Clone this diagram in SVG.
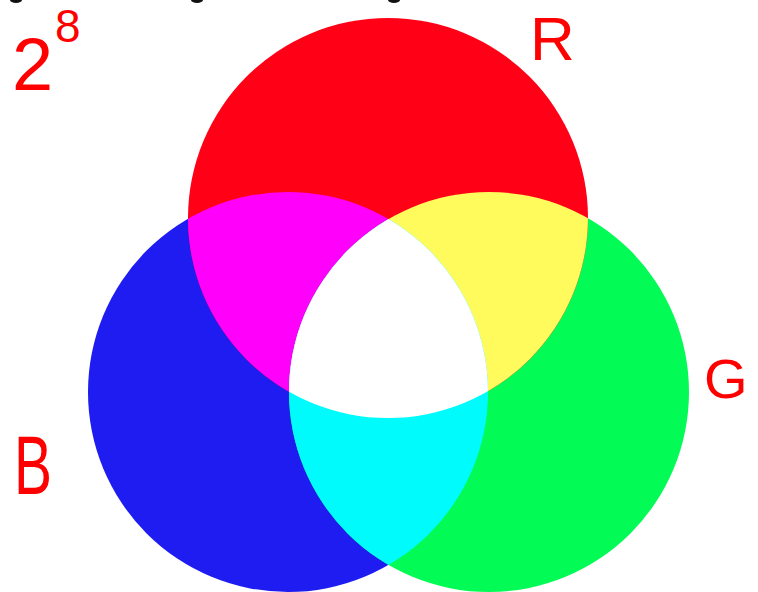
<svg xmlns="http://www.w3.org/2000/svg" width="758" height="592" viewBox="0 0 758 592">
<style>
.lbl{font-family:"Liberation Sans","DejaVu Sans",sans-serif;fill:#ff0000;font-weight:normal}
</style>
<defs>
<circle id="cR" cx="388" cy="218" r="200"/>
<circle id="cB" cx="288" cy="392" r="200"/>
<circle id="cG" cx="489" cy="392" r="200"/>
<clipPath id="clipB"><use href="#cB"/></clipPath>
<clipPath id="clipG"><use href="#cG"/></clipPath>
<clipPath id="clipBG"><circle cx="489" cy="392" r="200" clip-path="url(#clipB)"/></clipPath>
</defs>
<rect width="758" height="592" fill="#ffffff"/>
<g id="topmarks" fill="#111">
<ellipse cx="16" cy="0" rx="6" ry="3"/>
<ellipse cx="197" cy="0" rx="6" ry="3"/>
<ellipse cx="394" cy="0" rx="6" ry="3"/>
</g>
<g id="blue"><use href="#cB" fill="#1e1cf0"/></g>
<g id="green"><use href="#cG" fill="#03fb55"/></g>
<g id="red"><use href="#cR" fill="#ff0016"/></g>
<g id="magenta"><use href="#cR" fill="#ff00fb" clip-path="url(#clipB)"/></g>
<g id="yellow"><use href="#cR" fill="#fffb5c" clip-path="url(#clipG)"/></g>
<g id="cyan"><use href="#cB" fill="#00fbfd" clip-path="url(#clipG)"/></g>
<g id="white"><use href="#cR" fill="#ffffff" clip-path="url(#clipBG)"/></g>
<g id="labels">
<text class="lbl" x="12" y="90" font-size="74">2</text>
<text class="lbl" x="55" y="42" font-size="46">8</text>
<text class="lbl" x="530" y="60" font-size="62">R</text>
<text class="lbl" x="704" y="398" font-size="56">G</text>
<text class="lbl" x="14" y="494" font-size="84" textLength="38" lengthAdjust="spacingAndGlyphs">B</text>
</g>
</svg>
